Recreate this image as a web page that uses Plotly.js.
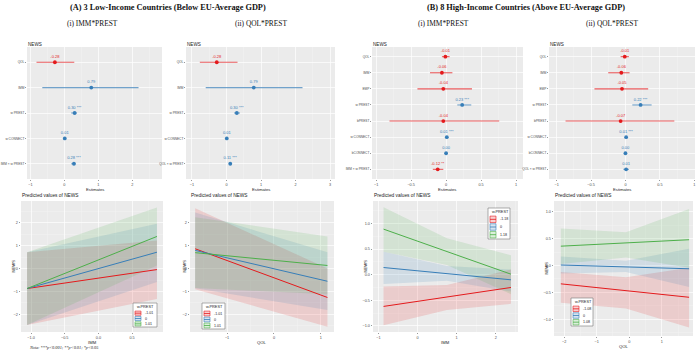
<!DOCTYPE html>
<html><head><meta charset="utf-8">
<script src="https://cdn.plot.ly/plotly-3.0.1.min.js"></script>
<style>html,body{margin:0;padding:0;background:#fff}#chart{width:700px;height:352px}</style>
</head><body><div id="chart"></div>
<script>
// ================= DATA =================
// Forest plots (coefficients)
const termsA1 = ["QOL","IMM","w PREST","w CONNECT","IMM \u00d7 w PREST"];
const estA1 = [-0.28, 0.79, 0.30, 0.01, 0.28];
const loA1  = [-0.82,-0.65, 0.20,-0.02, 0.20];
const hiA1  = [ 0.29, 2.18, 0.37, 0.04, 0.33];
const sigA1 = ["","","***","","***"];

const termsA2 = ["QOL","IMM","w PREST","w CONNECT","QOL \u00d7 w PREST"];
const estA2 = [-0.28, 0.79, 0.30, 0.01, 0.11];
const loA2  = [-0.77,-0.60, 0.22,-0.02, 0.07];
const hiA2  = [ 0.32, 2.20, 0.39, 0.04, 0.15];
const sigA2 = ["","","***","","***"];

const termsB1 = ["QOL","IMM","EMP","w PREST","bPREST","w CONNECT","bCONNECT","IMM \u00d7 w PREST"];
const estB1 = [-0.01,-0.06,-0.04, 0.23,-0.04, 0.01, 0.00,-0.12];
const loB1  = [-0.06,-0.23,-0.41, 0.16,-0.81,-0.01,-0.01,-0.19];
const hiB1  = [ 0.05, 0.09, 0.37, 0.36, 0.76, 0.03, 0.01,-0.04];
const sigB1 = ["","","","***","","***","","**"];

const termsB2 = ["QOL","IMM","EMP","w PREST","bPREST","w CONNECT","bCONNECT","QOL \u00d7 w PREST"];
const estB2 = [-0.01,-0.06,-0.05, 0.22,-0.07, 0.01, 0.00, 0.01];
const loB2  = [-0.07,-0.25,-0.45, 0.10,-0.87, 0.00,-0.01,-0.03];
const hiB2  = [ 0.05, 0.06, 0.33, 0.38, 0.71, 0.02, 0.01, 0.05];
const sigB2 = ["","","","***","","***","",""];

// Predicted values (lines: endpoints; ribbons: read at several x)
const a1X = [-1.06, 0.87];
const a1Red = [-0.87,-0.04],  a1RedLo = [-2.46,-1.33],  a1RedHi = [0.72,1.23];
const a1Blue = [-0.87,0.72],  a1BlueLo = [-2.46,-0.58], a1BlueHi = [0.72,1.96];
const a1Green = [-0.87,1.41], a1GreenLo = [-2.46,0.14], a1GreenHi = [0.72,2.68];
const levA1 = ["-1.01","0","1.01"];

const a2X = [-1.68, 1.14];
const a2Red = [0.87,-1.26],  a2RedLo = [-0.90,-2.54],  a2RedHi = [2.64,0.01];
const a2Blue = [0.80,-0.55], a2BlueLo = [-0.86,-1.81], a2BlueHi = [2.46,0.72];
const a2Green = [0.70,0.14], a2GreenLo = [-0.85,-1.12], a2GreenHi = [2.25,1.41];
const levA2 = ["-1.01","0","1.01"];

const b1X = [-0.87, 2.39];
const b1RibX = [-0.87, 0.75, 2.39];
const b1Red = [-0.62,-0.25],  b1RedLo = [-0.99,-0.69,-0.57],  b1RedHi = [-0.23,-0.20,0.10];
const b1Blue = [0.14,-0.10],  b1BlueLo = [-0.18,-0.12,-0.33], b1BlueHi = [0.45,0.17,0.10];
const b1Green = [0.89,0.01],  b1GreenLo = [0.45,0.19,-0.38],  b1GreenHi = [1.32,0.71,0.38];
const levB1 = ["-1.18","0","1.18"];

const b2X = [-2.10, 1.84];
const b2RibX = [-2.10, -0.10, 1.84];
const b2Red = [-0.34,-0.59], b2RedLo = [-0.69,-0.80,-1.15], b2RedHi = [-0.12,-0.22,-0.04];
const b2Blue = [0.01,-0.06], b2BlueLo = [-0.15,-0.12,-0.40], b2BlueHi = [0.17,0.09,0.31];
const b2Green = [0.36,0.48], b2GreenLo = [0.03,0.15,-0.04],  b2GreenHi = [0.69,0.62,1.05];
const levB2 = ["-1.08","0","1.08"];

// ================= STYLE / LAYOUT =================
const W = 700, H = 352;
const X = p => p / W, Y = p => 1 - p / H;
const RED = "#E41A1C", BLUE = "#377EB8", GREEN = "#4DAF4A";
const rgba = (hex, a) => {
  const n = parseInt(hex.slice(1), 16);
  return `rgba(${(n>>16)&255},${(n>>8)&255},${n&255},${a})`;
};
const SANS = "Liberation Sans, Arial, sans-serif";
const SERIF = "Liberation Serif, Times New Roman, serif";
const tickFont = {family: SANS, size: 3.8, color: "#4D4D4D"};

const traces = [];
const layout = {
  width: W, height: H, margin: {l:0, r:0, t:0, b:0},
  paper_bgcolor: "#fff", plot_bgcolor: "#EBEBEB",
  showlegend: false, font: {family: SANS},
  annotations: [], shapes: []
};

function linAxis(dom, range, dtick, anchor, fmt, horiz) {
  return {
    domain: horiz ? [X(dom[0]), X(dom[1])] : [Y(dom[1]), Y(dom[0])],
    range: range, anchor: anchor, tickmode: "linear", tick0: 0, dtick: dtick,
    tickformat: fmt || "", showgrid: true, gridcolor: "#FFFFFF", gridwidth: 0.7,
    minor: {dtick: dtick/2, tick0: 0, showgrid: true, gridcolor: "#F5F5F5", gridwidth: 0.35},
    zeroline: false, showline: false, ticks: "outside", ticklen: 1.3, tickwidth: 0.5,
    tickcolor: "#333", tickfont: tickFont, fixedrange: true
  };
}

// ----- forest panels -----
const forests = [
  {terms: termsA1, est: estA1, lo: loA1, hi: hiA1, sig: sigA1, dx: [27,162], range: [-1.10,2.87], dtick: 1},
  {terms: termsA2, est: estA2, lo: loA2, hi: hiA2, sig: sigA2, dx: [186,335], range: [-1.17,3.14], dtick: 1},
  {terms: termsB1, est: estB1, lo: loB1, hi: hiB1, sig: sigB1, dx: [372,523], range: [-1.06,1.10], dtick: 0.5},
  {terms: termsB2, est: estB2, lo: loB2, hi: hiB2, sig: sigB2, dx: [549,695], range: [-1.11,1.01], dtick: 0.5}
];
const fDy = [47, 179];
forests.forEach((f, k) => {
  const i = k + 1, xa = "x" + i, ya = "y" + i;
  [[false, RED], [true, BLUE]].forEach(([pos, col]) => {
    const idx = f.est.map((v, j) => j).filter(j => (f.est[j] >= 0) === pos);
    if (!idx.length) return;
    traces.push({
      type: "scatter", mode: "markers+text", xaxis: xa, yaxis: ya,
      x: idx.map(j => f.est[j]), y: idx.map(j => f.terms[j]),
      text: idx.map(j => f.est[j].toFixed(2) + (f.sig[j] ? " " + f.sig[j] : "")),
      textposition: "top center", textfont: {family: SANS, size: 4, color: col},
      marker: {size: 3.8, color: col},
      error_x: {type: "data", symmetric: false,
        array: idx.map(j => f.hi[j] - f.est[j]),
        arrayminus: idx.map(j => f.est[j] - f.lo[j]),
        color: rgba(col, 0.7), thickness: 1.1, width: 0},
      hoverinfo: "skip", cliponaxis: false
    });
  });
  layout["xaxis" + (i === 1 ? "" : i)] = linAxis(f.dx, f.range, f.dtick, ya, "", true);
  const n = f.terms.length;
  layout["yaxis" + (i === 1 ? "" : i)] = {
    domain: [Y(fDy[1]), Y(fDy[0])], anchor: xa, type: "category",
    categoryorder: "array", categoryarray: f.terms, range: [n - 0.4, -0.6],
    showgrid: true, gridcolor: "#FFFFFF", gridwidth: 0.7, zeroline: false,
    ticks: "outside", ticklen: 1, tickwidth: 0.5, tickcolor: "#333",
    tickfont: {family: SANS, size: 3.2, color: "#4D4D4D"}, fixedrange: true
  };
  const cx = (f.dx[0] + f.dx[1]) / 2;
  layout.annotations.push(
    {text: "NEWS", x: X(f.dx[0] - 1), y: Y(44), xref: "paper", yref: "paper",
     xanchor: "left", yanchor: "middle", showarrow: false, font: {size: 4.6, color: "#222", family: SANS}},
    {text: "Estimates", x: X(cx), y: Y(189.5), xref: "paper", yref: "paper",
     xanchor: "center", yanchor: "middle", showarrow: false, font: {size: 4.2, color: "#222", family: SANS}}
  );
});

// ----- predicted-value panels -----
const preds = [
  {lx: a1X, rx: a1X, groups: [[a1Red,a1RedLo,a1RedHi],[a1Blue,a1BlueLo,a1BlueHi],[a1Green,a1GreenLo,a1GreenHi]],
   dx: [21,163], dy: [201,332], xr: [-1.15,0.96], xd: 0.5, xf: ".1f", yr: [-2.77,2.96], yd: 1, yf: "",
   xt: "IMM", ytx: 13, lev: levA1, leg: [133,303,24,24]},
  {lx: a2X, rx: a2X, groups: [[a2Red,a2RedLo,a2RedHi],[a2Blue,a2BlueLo,a2BlueHi],[a2Green,a2GreenLo,a2GreenHi]],
   dx: [190,334], dy: [201,332], xr: [-1.79,1.28], xd: 1, xf: "", yr: [-2.77,2.96], yd: 1, yf: "",
   xt: "QOL", ytx: 184, lev: levA2, leg: [202,303,23,26]},
  {lx: b1X, rx: b1RibX, groups: [[b1Red,b1RedLo,b1RedHi],[b1Blue,b1BlueLo,b1BlueHi],[b1Green,b1GreenLo,b1GreenHi]],
   dx: [373,518], dy: [201,332], xr: [-1.14,2.57], xd: 1, xf: "", yr: [-1.12,1.44], yd: 0.5, yf: ".1f",
   xt: "IMM", ytx: 365, lev: levB1, leg: [488,208,22,31]},
  {lx: b2X, rx: b2RibX, groups: [[b2Red,b2RedLo,b2RedHi],[b2Blue,b2BlueLo,b2BlueHi],[b2Green,b2GreenLo,b2GreenHi]],
   dx: [554,693], dy: [201,336], xr: [-2.31,1.96], xd: 1, xf: "", yr: [-1.31,1.20], yd: 0.5, yf: ".1f",
   xt: "QOL", ytx: 546, lev: levB2, leg: [571,298,22,28]}
];
const COLS = [RED, BLUE, GREEN];
preds.forEach((p, k) => {
  const i = k + 5, xa = "x" + i, ya = "y" + i;
  // ribbons
  p.groups.forEach((g, j) => {
    traces.push({
      type: "scatter", mode: "lines", xaxis: xa, yaxis: ya,
      x: p.rx.concat(p.rx.slice().reverse()),
      y: g[2].concat(g[1].slice().reverse()),
      fill: "toself", fillcolor: rgba(COLS[j], 0.15), line: {width: 0},
      hoverinfo: "skip"
    });
  });
  // lines
  p.groups.forEach((g, j) => {
    traces.push({
      type: "scatter", mode: "lines", xaxis: xa, yaxis: ya,
      x: p.lx, y: g[0], line: {color: COLS[j], width: 1}, hoverinfo: "skip"
    });
  });
  layout["xaxis" + i] = linAxis(p.dx, p.xr, p.xd, ya, p.xf, true);
  layout["yaxis" + i] = linAxis(p.dy, p.yr, p.yd, xa, p.yf, false);
  const cx = (p.dx[0] + p.dx[1]) / 2, cy = (p.dy[0] + p.dy[1]) / 2;
  layout.annotations.push(
    {text: "Predicted values of NEWS", x: X(p.dx[0] - 1), y: Y(196), xref: "paper", yref: "paper",
     xanchor: "left", yanchor: "middle", showarrow: false, font: {size: 4.8, color: "#222", family: SANS}},
    {text: p.xt, x: X(cx), y: Y(p.dy[1] + 10.5), xref: "paper", yref: "paper",
     xanchor: "center", yanchor: "middle", showarrow: false, font: {size: 4.2, color: "#222", family: SANS}},
    {text: "NEWS", x: X(p.ytx), y: Y(cy), xref: "paper", yref: "paper", textangle: -90,
     xanchor: "center", yanchor: "middle", showarrow: false, font: {size: 4.2, color: "#222", family: SANS}}
  );
  // legend box (ggplot-style)
  const [lx, ly, lw, lh] = p.leg;
  layout.shapes.push({type: "rect", xref: "paper", yref: "paper", x0: X(lx), x1: X(lx + lw), y0: Y(ly), y1: Y(ly + lh),
    fillcolor: "#FFFFFF", line: {color: "#777", width: 0.6}});
  layout.annotations.push({text: "w.PREST", x: X(lx + 2), y: Y(ly + 3.8), xref: "paper", yref: "paper",
    xanchor: "left", yanchor: "middle", showarrow: false, font: {size: 3.8, color: "#222", family: SANS}});
  const rowH = (lh - 8) / 3;
  p.lev.forEach((lab, j) => {
    const cyr = ly + 7.5 + rowH * (j + 0.5);
    layout.shapes.push({type: "rect", xref: "paper", yref: "paper", x0: X(lx + 2), x1: X(lx + 8),
      y0: Y(cyr - rowH / 2 + 0.6), y1: Y(cyr + rowH / 2 - 0.6),
      fillcolor: rgba(COLS[j], 0.2), line: {color: COLS[j], width: 0.6}});
    layout.shapes.push({type: "line", xref: "paper", yref: "paper", x0: X(lx + 2), x1: X(lx + 8),
      y0: Y(cyr), y1: Y(cyr), line: {color: COLS[j], width: 0.8}});
    layout.annotations.push({text: lab, x: X(lx + 9.5), y: Y(cyr), xref: "paper", yref: "paper",
      xanchor: "left", yanchor: "middle", showarrow: false, font: {size: 3.6, color: "#222", family: SANS}});
  });
});

// ----- headings -----
layout.annotations.push(
  {text: "<b>(A) 3 Low-Income Countries (Below EU-Average GDP)</b>", x: X(168), y: Y(8), xref: "paper", yref: "paper",
   xanchor: "center", yanchor: "middle", showarrow: false, font: {family: SERIF, size: 8.3, color: "#111"}},
  {text: "<b>(B) 8 High-Income Countries (Above EU-Average GDP)</b>", x: X(526), y: Y(8), xref: "paper", yref: "paper",
   xanchor: "center", yanchor: "middle", showarrow: false, font: {family: SERIF, size: 8.3, color: "#111"}},
  {text: "(i) IMM*PREST", x: X(92), y: Y(24), xref: "paper", yref: "paper", showarrow: false,
   xanchor: "center", yanchor: "middle", font: {family: SERIF, size: 7.4, color: "#111"}},
  {text: "(ii) QOL*PREST", x: X(261), y: Y(24), xref: "paper", yref: "paper", showarrow: false,
   xanchor: "center", yanchor: "middle", font: {family: SERIF, size: 7.4, color: "#111"}},
  {text: "(i) IMM*PREST", x: X(443), y: Y(24), xref: "paper", yref: "paper", showarrow: false,
   xanchor: "center", yanchor: "middle", font: {family: SERIF, size: 7.4, color: "#111"}},
  {text: "(ii) QOL*PREST", x: X(612), y: Y(24), xref: "paper", yref: "paper", showarrow: false,
   xanchor: "center", yanchor: "middle", font: {family: SERIF, size: 7.4, color: "#111"}},
  {text: "<i>Note: ***p<0.001; **p<0.01; *p<0.05</i>", x: X(27), y: Y(347), xref: "paper", yref: "paper",
   xanchor: "left", yanchor: "middle", showarrow: false, font: {family: SERIF, size: 4.3, color: "#222"}}
);

Plotly.newPlot("chart", traces, layout, {staticPlot: true, displayModeBar: false});
</script>
</body></html>
